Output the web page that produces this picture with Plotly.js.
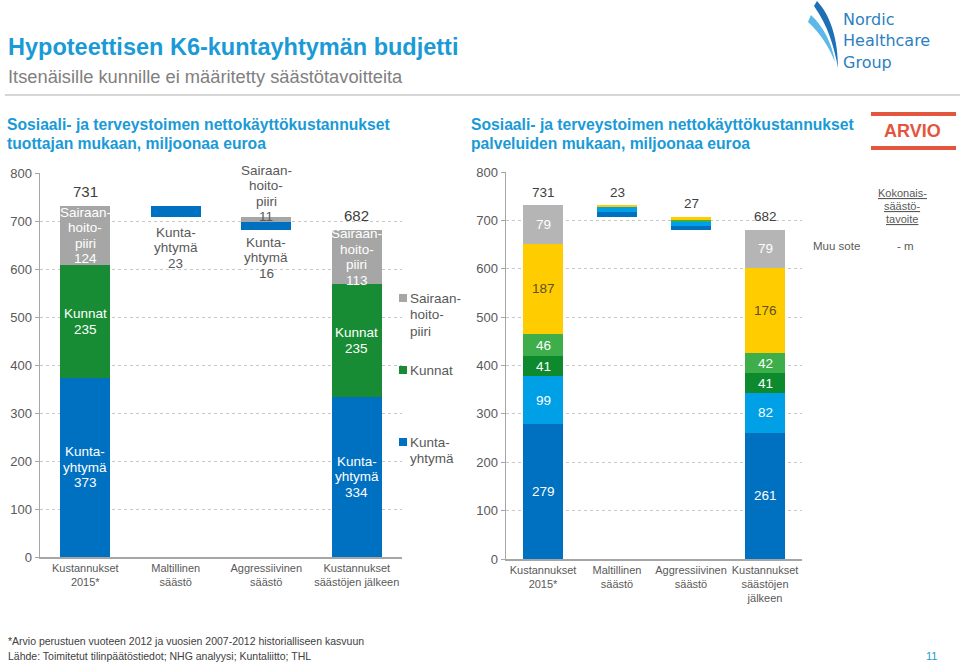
<!DOCTYPE html>
<html>
<head>
<meta charset="utf-8">
<script src="https://cdn.plot.ly/plotly-3.0.1.min.js"></script>
<style>html,body{margin:0;padding:0;background:#fff;}#chart{width:960px;height:662px;}</style>
</head>
<body>
<div id="chart"></div>
<script>
// ---------- DATA ----------
const leftCats = ['Kustannukset<br>2015*', 'Maltillinen<br>säästö', 'Aggressiivinen<br>säästö', 'Kustannukset<br>säästöjen jälkeen'];
const leftKuntayhtyma = [373, 23, 16, 334];
const leftKunnat = [235, 0, 0, 235];
const leftSairaanhoitopiiri = [124, 0, 11, 113];
const leftTotalLabels = ['731', '', '', '682'];
const leftSeriesNames = [['Kunta-', 'yhtymä'], ['Kunnat'], ['Sairaan-', 'hoito-', 'piiri']];

const rightCats = ['Kustannukset<br>2015*', 'Maltillinen<br>säästö', 'Aggressiivinen<br>säästö', 'Kustannukset<br>säästöjen<br>jälkeen'];
const rightDarkBlue = [279, 10, 8, 261];
const rightLightBlue = [99, 9, 8, 82];
const rightDarkGreen = [41, 0, 0, 41];
const rightGreen = [46, 1, 3, 42];
const rightYellow = [187, 3, 8, 176];
const rightGray = [79, 0, 0, 79];
const rightTotalLabels = ['731', '23', '27', '682'];

const yTicks = [0, 100, 200, 300, 400, 500, 600, 700, 800];

// ---------- HELPERS ----------
const W = 960, H = 662;
const px = x => x / W;
const py = y => 1 - y / H;
const pathPx = s => s.replace(/(-?\d+(\.\d+)?),(-?\d+(\.\d+)?)/g, (m, a, b, c) => px(+a).toFixed(5) + ',' + py(+c).toFixed(5));
const sumAt = (arrs, i) => arrs.reduce((s, a) => s + a[i], 0);

const leftStacks = [leftKuntayhtyma, leftKunnat, leftSairaanhoitopiiri];
const leftBase = [0, 0, 0, 0];
leftBase[1] = sumAt(leftStacks, 0) - sumAt(leftStacks, 1);
leftBase[2] = leftBase[1] - sumAt(leftStacks, 2);
const rightStacks = [rightDarkBlue, rightLightBlue, rightDarkGreen, rightGreen, rightYellow, rightGray];
const rightBase = [0, 0, 0, 0];
rightBase[1] = sumAt(rightStacks, 0) - sumAt(rightStacks, 1);
rightBase[2] = rightBase[1] - sumAt(rightStacks, 2);

const C = {
  blue: '#0070C0', green: '#178C35', gray: '#A6A6A6',
  lblue: '#00A0E6', dgreen: '#0E8A2E', lgreen: '#3DAE4A', yellow: '#FFCC00', rgray: '#B5B5B5',
  title: '#1A9AD6', text: '#595959', grid: '#C8C8C8', axis: '#A6A6A6'
};
const FONT = 'Liberation Sans, Arial, Helvetica, sans-serif';

// ---------- TRACES ----------
const traces = [];
function bar(xs, ys, color, xa, ya, name) {
  return { type: 'bar', x: xs, y: ys, xaxis: xa, yaxis: ya, name: name,
    marker: { color: color, line: { width: 0 } }, hoverinfo: 'skip', showlegend: false, textposition: 'none' };
}
traces.push(bar(leftCats, leftBase, 'rgba(0,0,0,0)', 'x', 'y', 'base'));
traces.push(bar(leftCats, leftKuntayhtyma, C.blue, 'x', 'y', 'Kuntayhtymä'));
traces.push(bar(leftCats, leftKunnat, C.green, 'x', 'y', 'Kunnat'));
traces.push(bar(leftCats, leftSairaanhoitopiiri, C.gray, 'x', 'y', 'Sairaanhoitopiiri'));
const rightColors = [C.blue, C.lblue, C.dgreen, C.lgreen, C.yellow, C.rgray];
traces.push(bar(rightCats, rightBase, 'rgba(0,0,0,0)', 'x2', 'y2', 'base'));
rightStacks.forEach((s, k) => traces.push(bar(rightCats, s, rightColors[k], 'x2', 'y2', 's' + k)));

// ---------- ANNOTATIONS ----------
const ann = [];
function A(o) { ann.push(Object.assign({ showarrow: false, font: { family: FONT, size: 13.5, color: '#fff' } }, o)); }
function ML(base, lines, lh, mode, pad) {
  const n = lines.length; pad = pad || 0;
  lines.forEach((t, j) => {
    let s;
    if (mode === 'center') s = ((n - 1) / 2 - j) * lh;
    else if (mode === 'above') s = pad + (n - 1 - j) * lh + lh / 2;
    else s = -(pad + j * lh + lh / 2);
    A(Object.assign({}, base, { text: t, yanchor: 'middle', yshift: s + (base.yshift || 0) }));
  });
}

[0, 3].forEach(i => {
  let cum = 0;
  leftStacks.forEach((s, k) => {
    if (s[i] > 0) ML({ xref: 'x', yref: 'y', x: leftCats[i], y: cum + s[i] / 2 }, leftSeriesNames[k].concat([String(s[i])]), 15.5, 'center');
    cum += s[i];
  });
  A({ xref: 'x', yref: 'y', x: leftCats[i], y: cum, yanchor: 'middle', yshift: 14, text: leftTotalLabels[i], font: { family: FONT, size: 15, color: '#404040' } });
});
{
  const dark = { family: FONT, size: 13.5, color: C.text };
  ML({ xref: 'x', yref: 'y', x: leftCats[1], y: leftBase[1], font: dark }, leftSeriesNames[0].concat([String(leftKuntayhtyma[1])]), 15.5, 'below', 8);
  const top2 = leftBase[2] + sumAt(leftStacks, 2);
  ML({ xref: 'x', yref: 'y', x: leftCats[2], y: top2, font: dark }, leftSeriesNames[2].concat([String(leftSairaanhoitopiiri[2])]), 15.5, 'above', -8);
  ML({ xref: 'x', yref: 'y', x: leftCats[2], y: leftBase[2], font: dark }, leftSeriesNames[0].concat([String(leftKuntayhtyma[2])]), 15.5, 'below', 5);
}
const shapes = [];
const legendItems = [
  { name: leftSeriesNames[2], color: C.gray, y: 298 },
  { name: leftSeriesNames[1], color: C.green, y: 370 },
  { name: leftSeriesNames[0], color: C.blue, y: 442 }
];
legendItems.forEach(it => {
  shapes.push({ type: 'rect', xref: 'paper', yref: 'paper', x0: px(399), x1: px(407), y0: py(it.y - 4), y1: py(it.y + 4), fillcolor: it.color, line: { width: 0 } });
  it.name.forEach((t, j) => A({ xref: 'paper', yref: 'paper', x: px(408), y: py(it.y + j * 16.5), xanchor: 'left', yanchor: 'middle',
      text: t, font: { family: FONT, size: 13.5, color: C.text } }));
});

[0, 3].forEach(i => {
  let cum = 0;
  rightStacks.forEach((s, k) => {
    if (s[i] > 0) A({ xref: 'x2', yref: 'y2', x: rightCats[i], y: cum + s[i] / 2, text: String(s[i]), yanchor: 'middle',
        font: { family: FONT, size: 13.5, color: k === 4 ? '#5E5020' : '#fff' } });
    cum += s[i];
  });
  A({ xref: 'x2', yref: 'y2', x: rightCats[i], y: cum, yanchor: 'middle', yshift: 13, text: rightTotalLabels[i], font: { family: FONT, size: 13.5, color: '#404040' } });
});
[1, 2].forEach(i => {
  A({ xref: 'x2', yref: 'y2', x: rightCats[i], y: rightBase[i] + sumAt(rightStacks, i), yanchor: 'middle', yshift: 13,
      text: rightTotalLabels[i], font: { family: FONT, size: 13.5, color: '#404040' } });
});

A({ xref: 'paper', yref: 'paper', x: px(6), y: py(47), xanchor: 'left', yanchor: 'middle', text: '<b>Hypoteettisen K6-kuntayhtymän budjetti</b>', font: { family: FONT, size: 23.5, color: C.title } });
A({ xref: 'paper', yref: 'paper', x: px(6), y: py(77), xanchor: 'left', yanchor: 'middle', text: 'Itsenäisille kunnille ei määritetty säästötavoitteita', font: { family: FONT, size: 18.3, color: '#808080' } });
[['Sosiaali- ja terveystoimen nettokäyttökustannukset', 'tuottajan mukaan, miljoonaa euroa', 5],
 ['Sosiaali- ja terveystoimen nettokäyttökustannukset', 'palveluiden mukaan, miljoonaa euroa', 469]].forEach(r => {
  A({ xref: 'paper', yref: 'paper', x: px(r[2]), y: py(124), xanchor: 'left', yanchor: 'middle', text: '<b>' + r[0] + '</b>', font: { family: FONT, size: 15.7, color: C.title } });
  A({ xref: 'paper', yref: 'paper', x: px(r[2]), y: py(144), xanchor: 'left', yanchor: 'middle', text: '<b>' + r[1] + '</b>', font: { family: FONT, size: 15.7, color: C.title } });
});
A({ xref: 'paper', yref: 'paper', x: px(912), y: py(131), xanchor: 'center', yanchor: 'middle', text: '<b>ARVIO</b>', font: { family: FONT, size: 18, color: '#E4553E' } });
['<u>Kokonais-</u>', '<u>säästö-</u>', '<u>tavoite</u>'].forEach((t, j) =>
  A({ xref: 'paper', yref: 'paper', x: px(902), y: py(193 + j * 13), xanchor: 'center', yanchor: 'middle', text: t, font: { family: FONT, size: 11, color: C.text } }));
A({ xref: 'paper', yref: 'paper', x: px(836), y: py(246), xanchor: 'center', yanchor: 'middle', text: 'Muu sote', font: { family: FONT, size: 11.5, color: C.text } });
A({ xref: 'paper', yref: 'paper', x: px(905), y: py(246), xanchor: 'center', yanchor: 'middle', text: '- m', font: { family: FONT, size: 11.5, color: C.text } });
['Nordic', 'Healthcare', 'Group'].forEach((t, j) =>
  A({ xref: 'paper', yref: 'paper', x: px(841), y: py(19 + j * 21.5), xanchor: 'left', yanchor: 'middle', text: t,
      font: { family: 'DejaVu Sans, Open Sans, sans-serif', size: 16, color: '#2C7FC1' } }));
A({ xref: 'paper', yref: 'paper', x: px(6), y: py(641), xanchor: 'left', yanchor: 'middle', text: '*Arvio perustuen vuoteen 2012 ja vuosien 2007-2012 historialliseen kasvuun', font: { family: FONT, size: 10.5, color: '#404040' } });
A({ xref: 'paper', yref: 'paper', x: px(6), y: py(656), xanchor: 'left', yanchor: 'middle', text: 'Lähde: Toimitetut tilinpäätöstiedot; NHG analyysi; Kuntaliitto; THL', font: { family: FONT, size: 10.5, color: '#404040' } });
A({ xref: 'paper', yref: 'paper', x: px(931), y: py(656), xanchor: 'center', yanchor: 'middle', text: '11', font: { family: FONT, size: 11, color: C.title } });

shapes.push({ type: 'line', xref: 'paper', yref: 'paper', x0: px(5), x1: px(960), y0: py(95), y1: py(95), line: { color: '#C8C8C8', width: 1.5 } });
shapes.push({ type: 'line', xref: 'paper', yref: 'paper', x0: px(871), x1: px(956), y0: py(114), y1: py(114), line: { color: '#E4553E', width: 4 } });
shapes.push({ type: 'line', xref: 'paper', yref: 'paper', x0: px(871), x1: px(956), y0: py(148), y1: py(148), line: { color: '#E4553E', width: 4 } });
shapes.push({ type: 'path', xref: 'paper', yref: 'paper', path: pathPx('M 817,1 C 831,16 838,40 838,68 C 834,46 828,26 814,6 Z'), fillcolor: '#1F6FB5', line: { width: 0 } });
shapes.push({ type: 'path', xref: 'paper', yref: 'paper', path: pathPx('M 811,15 C 824,27 832,44 835,62 C 829,47 821,34 808,22 Z'), fillcolor: '#5CB8E8', line: { width: 0 } });

function yax(domain, anchor) {
  return { domain: domain, anchor: anchor, range: [0, 800], tickvals: yTicks, showgrid: true, gridcolor: C.grid, griddash: '3px,3px', gridwidth: 1,
    showline: true, linecolor: C.axis, linewidth: 1.5, ticks: 'outside', ticklen: 4, tickcolor: C.axis,
    tickfont: { family: FONT, size: 13, color: C.text }, zeroline: false, fixedrange: true };
}
function xax(domain, anchor) {
  return { domain: domain, anchor: anchor, type: 'category', showline: true, linecolor: C.axis, linewidth: 1.5, tickangle: 0,
    showgrid: false, ticks: '', tickfont: { family: FONT, size: 11, color: C.text }, fixedrange: true };
}
const layout = {
  width: W, height: H, margin: { l: 0, r: 0, t: 0, b: 0 },
  paper_bgcolor: '#fff', plot_bgcolor: 'rgba(0,0,0,0)',
  barmode: 'stack', bargap: 0.45, showlegend: false,
  font: { family: FONT },
  xaxis: xax([px(40), px(402)], 'y'),
  yaxis: yax([py(557), py(173)], 'x'),
  xaxis2: xax([px(506), px(802)], 'y2'),
  yaxis2: yax([py(559), py(172)], 'x2'),
  annotations: ann, shapes: shapes
};
Plotly.newPlot('chart', traces, layout, { staticPlot: true, displayModeBar: false });
</script>
</body>
</html>
